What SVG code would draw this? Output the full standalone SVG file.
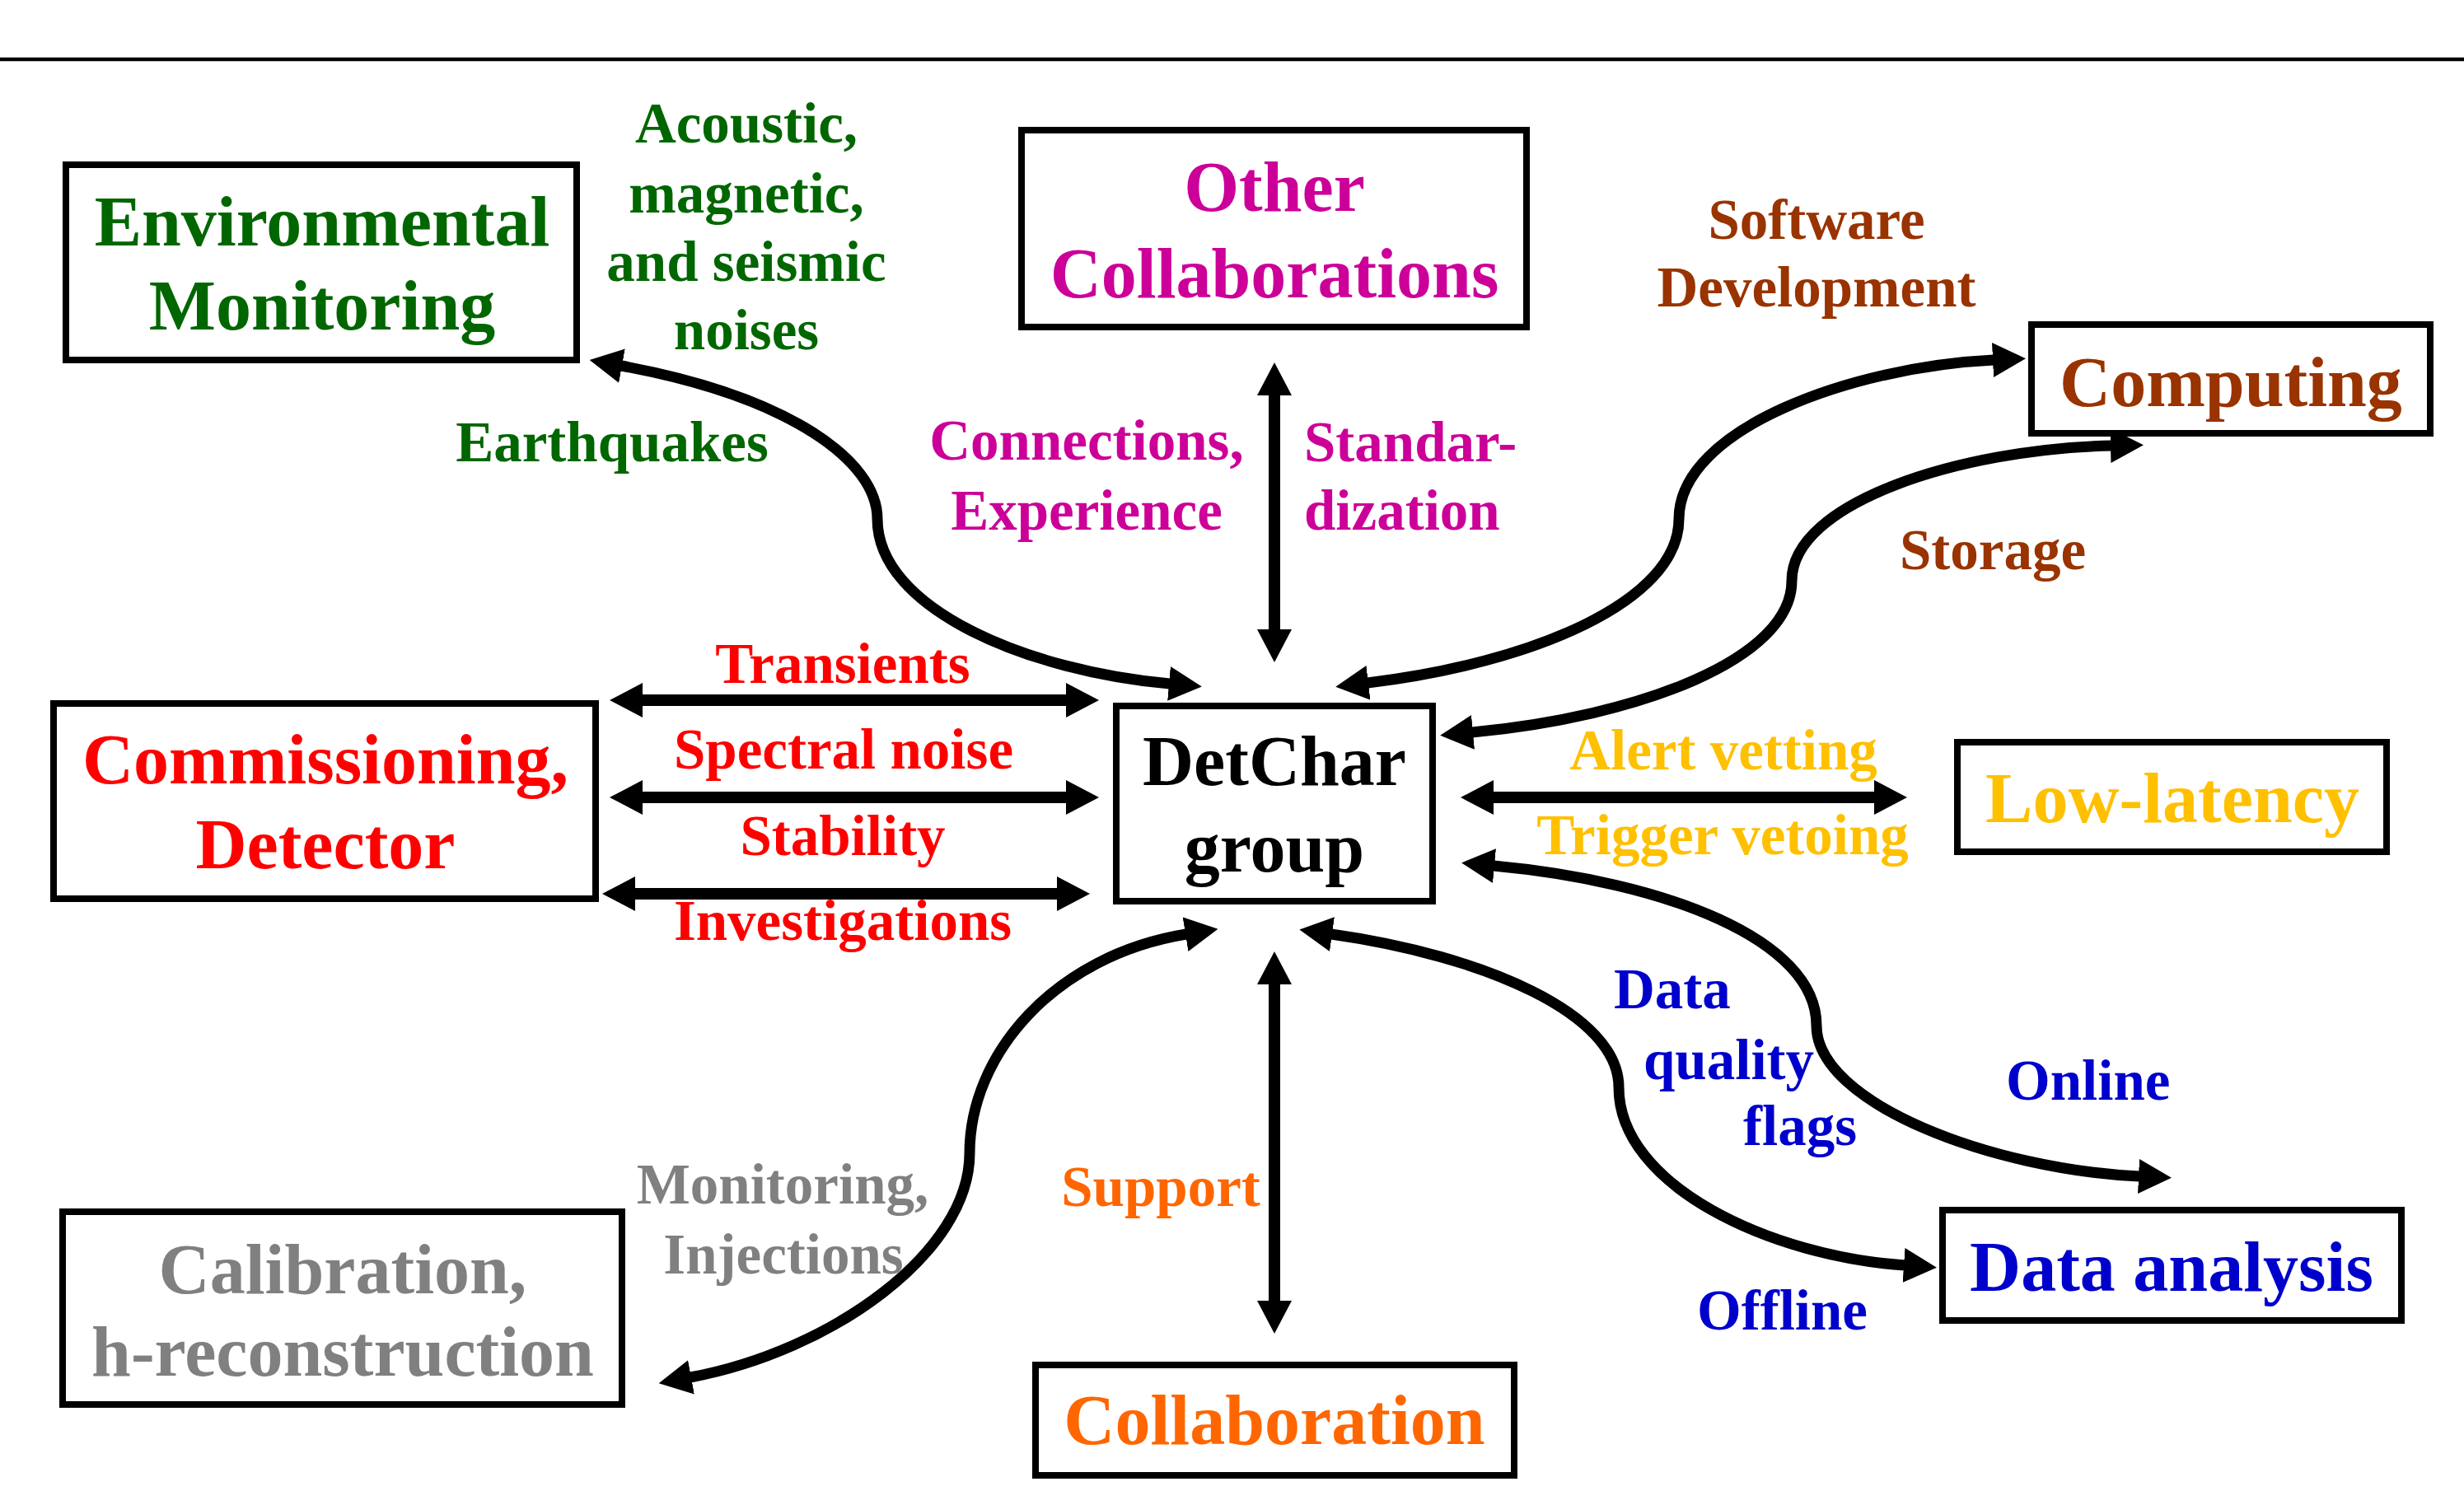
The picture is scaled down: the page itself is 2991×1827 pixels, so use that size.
<svg xmlns="http://www.w3.org/2000/svg" width="2991" height="1827" viewBox="0 0 2991 1827">
<style>
text { font-family: "Liberation Serif", "Times New Roman", serif; font-weight: bold; text-anchor: middle; }
.t { font-size: 86px; }
.l { font-size: 69px; }
.box { fill: #ffffff; stroke: #000000; stroke-width: 8; }
.con { fill: none; stroke: #000000; stroke-width: 13; marker-start: url(#ah); marker-end: url(#ah); }
.str { stroke-width: 14; }
.green { fill: #006600; }
.mag { fill: #CC0099; }
.brown { fill: #993300; }
.red { fill: #FF0000; }
.gold { fill: #FFC000; }
.gray { fill: #808080; }
.orange { fill: #FF6600; }
.blue { fill: #0000CC; }
</style>
<defs>
<marker id="ah" viewBox="0 0 40 42" refX="1" refY="21" markerWidth="40" markerHeight="42" markerUnits="userSpaceOnUse" orient="auto-start-reverse">
<path d="M0,0 L40,21 L0,42 z" fill="#000000"/>
</marker>
</defs>
<rect x="0" y="0" width="2991" height="1827" fill="#ffffff"/>
<line x1="0" y1="72" x2="2991" y2="72" stroke="#000000" stroke-width="4.5"/>

<g id="connectors">
<path class="con" d="M754,444 C960,482 1065,560 1065,630 C1065,740 1250,815 1420,830"/>
<line class="con str" x1="1547" y1="479" x2="1547" y2="765"/>
<path class="con" d="M1660,829 C1860,805 2038,730 2038,630 C2038,520 2250,445 2420,437"/>
<path class="con" d="M1787,889 C1990,870 2175,800 2175,705 C2175,610 2380,545 2563,541"/>
<line class="con str" x1="779" y1="850" x2="1295" y2="850"/>
<line class="con str" x1="779" y1="968" x2="1295" y2="968"/>
<line class="con str" x1="770" y1="1085" x2="1284" y2="1085"/>
<line class="con str" x1="1812" y1="968" x2="2276" y2="968"/>
<path class="con" d="M1813,1051 C2020,1070 2205,1140 2205,1245 C2205,1340 2420,1420 2597,1428"/>
<path class="con" d="M1616,1134 C1800,1160 1965,1230 1965,1320 C1965,1440 2150,1525 2312,1536"/>
<line class="con str" x1="1547" y1="1194" x2="1547" y2="1580"/>
<path class="con" d="M1440,1134 C1280,1160 1177,1280 1177,1400 C1177,1520 1010,1640 838,1672"/>
</g>

<g id="connector-labels">
<text class="l green"><tspan x="906" y="173">Acoustic,</tspan><tspan x="906" y="258">magnetic,</tspan><tspan x="906" y="341">and seismic</tspan><tspan x="906" y="424">noises</tspan></text>
<text class="l green" x="743" y="560">Earthquakes</text>
<text class="l mag"><tspan x="1319" y="558">Connections,</tspan><tspan x="1319" y="643">Experience</tspan></text>
<text class="l mag" style="text-anchor:start"><tspan x="1583" y="560">Standar-</tspan><tspan x="1583" y="643">dization</tspan></text>
<text class="l brown"><tspan x="2205" y="290">Software</tspan><tspan x="2205" y="372">Development</tspan></text>
<text class="l brown" x="2419" y="691">Storage</text>
<text class="l red" x="1023" y="829">Transients</text>
<text class="l red" x="1024" y="933">Spectral noise</text>
<text class="l red" x="1023" y="1038">Stability</text>
<text class="l red" x="1023" y="1141">Investigations</text>
<text class="l gold" x="2092" y="934">Alert vetting</text>
<text class="l gold" x="2091" y="1037">Trigger vetoing</text>
<text class="l blue" style="text-anchor:start" x="1959" y="1224">Data</text>
<text class="l blue" style="text-anchor:start" x="1995" y="1310">quality</text>
<text class="l blue" style="text-anchor:start" x="2116" y="1390">flags</text>
<text class="l blue" style="text-anchor:start" x="2435" y="1335">Online</text>
<text class="l blue" style="text-anchor:start" x="2060" y="1614">Offline</text>
<text class="l orange" x="1409" y="1464">Support</text>
<text class="l gray"><tspan x="950" y="1461">Monitoring,</tspan><tspan x="951" y="1546">Injections</tspan></text>
</g>

<g id="node-environmental">
<rect class="box" x="80" y="200" width="620" height="237"/>
<text class="t green"><tspan x="391" y="298">Environmental</tspan><tspan x="391" y="400">Monitoring</tspan></text>
</g>
<g id="node-other-collaborations">
<rect class="box" x="1240" y="158" width="613" height="239"/>
<text class="t mag"><tspan x="1547" y="256">Other</tspan><tspan x="1547" y="361">Collaborations</tspan></text>
</g>
<g id="node-computing">
<rect class="box" x="2466" y="394" width="484" height="132"/>
<text class="t brown" x="2708" y="493">Computing</text>
</g>
<g id="node-commissioning">
<rect class="box" x="65" y="854" width="658" height="237"/>
<text class="t red"><tspan x="395" y="951">Commissioning,</tspan><tspan x="395" y="1054">Detector</tspan></text>
</g>
<g id="node-detchar">
<rect class="box" x="1355" y="857" width="384" height="237"/>
<text class="t" fill="#000000"><tspan x="1547" y="953">DetChar</tspan><tspan x="1547" y="1058">group</tspan></text>
</g>
<g id="node-low-latency">
<rect class="box" x="2376" y="901" width="521" height="133"/>
<text class="t gold" x="2637" y="998">Low-latency</text>
</g>
<g id="node-calibration">
<rect class="box" x="76" y="1471" width="679" height="234"/>
<text class="t gray"><tspan x="416" y="1570">Calibration,</tspan><tspan x="416" y="1670">h-reconstruction</tspan></text>
</g>
<g id="node-collaboration">
<rect class="box" x="1257" y="1657" width="581" height="134"/>
<text class="t orange" x="1547" y="1753">Collaboration</text>
</g>
<g id="node-data-analysis">
<rect class="box" x="2358" y="1469" width="557" height="134"/>
<text class="t blue" x="2636" y="1567">Data analysis</text>
</g>
</svg>
